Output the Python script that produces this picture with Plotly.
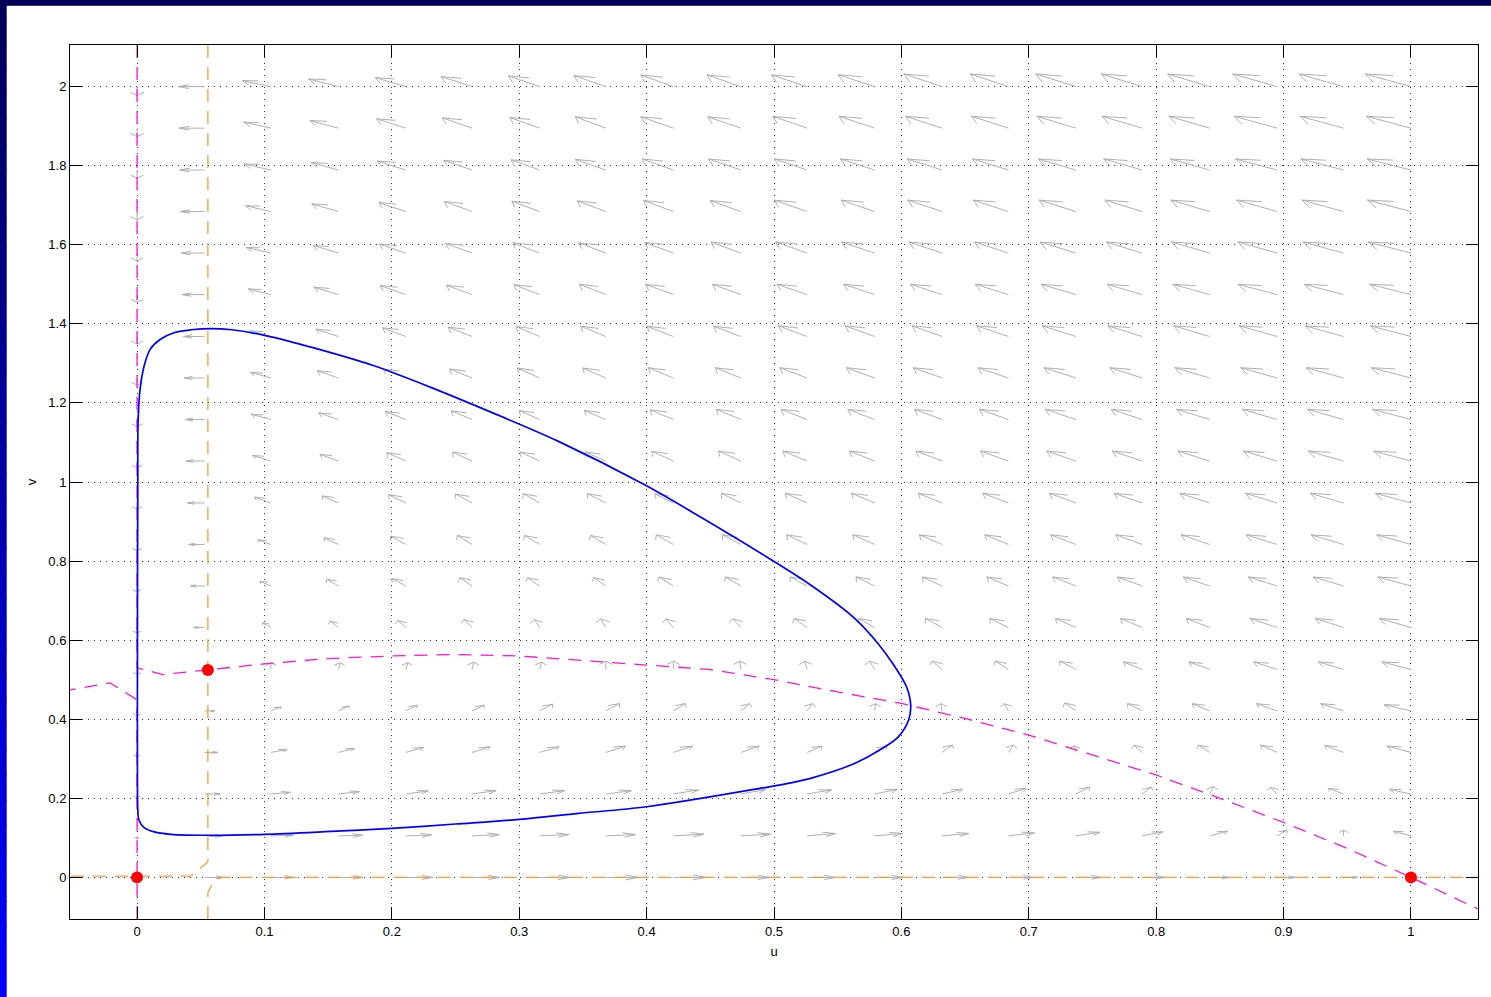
import plotly.graph_objects as go

# ---------------- data ----------------
# arrow grid (tails of the vector-field arrows)
U_GRID = [0.000, 0.053, 0.105, 0.158, 0.211, 0.263, 0.316, 0.368, 0.421, 0.474,
          0.526, 0.579, 0.632, 0.684, 0.737, 0.789, 0.842, 0.895, 0.947, 1.000]
V_GRID = [0.000, 0.105, 0.211, 0.316, 0.421, 0.526, 0.632, 0.737, 0.842, 0.947,
          1.053, 1.158, 1.263, 1.368, 1.474, 1.579, 1.684, 1.789, 1.895, 2.000]

# arrow components (data units), one row per V_GRID value (v = 0 first)
DU = [
    [0, 0.015, 0.018, 0.019, 0.021, 0.0214, 0.024, 0.0256, 0.0256, 0.0224, 0.0224, 0.022, 0.021, 0.0195, 0.020, 0.018, 0.0156, 0.0146, 0.0114, 0],
    [0, 0.014, 0.0176, 0.0192, 0.0202, 0.0214, 0.023, 0.0234, 0.024, 0.0234, 0.0224, 0.0218, 0.0211, 0.0205, 0.0189, 0.0163, 0.014, 0.0075, 0.0, -0.014],
    [0, 0.0122, 0.0154, 0.0166, 0.0176, 0.0189, 0.0198, 0.0202, 0.0198, 0.0192, 0.0192, 0.0179, 0.0163, 0.014, 0.0107, 0.0072, 0.0033, -0.0055, -0.012, -0.0172],
    [0, 0.0106, 0.0128, 0.0128, 0.0138, 0.0141, 0.0154, 0.0154, 0.015, 0.0144, 0.0117, 0.009, 0.008, 0.004, -0.0013, -0.0065, -0.0088, -0.013, -0.0146, -0.0189],
    [0, 0.008, 0.008, 0.0086, 0.009, 0.0096, 0.0102, 0.0106, 0.0095, 0.007, 0.004, 0.0007, -0.001, -0.0033, -0.0088, -0.0114, -0.0137, -0.0163, -0.0179, -0.0211],
    [0, 0, 0, 0.0016, 0.0016, 0.0013, 0.0016, 0, 0, -0.001, -0.002, -0.004, -0.008, -0.0104, -0.0127, -0.0146, -0.0163, -0.0185, -0.0195, -0.0228],
    [0, -0.0086, -0.0064, -0.0064, -0.0064, -0.0064, -0.004, -0.0042, -0.0058, -0.0064, -0.010, -0.0124, -0.013, -0.0146, -0.016, -0.017, -0.0185, -0.0211, -0.022, -0.0247],
    [0, -0.0109, -0.0086, -0.009, -0.0106, -0.0096, -0.0096, -0.0096, -0.0112, -0.0122, -0.0133, -0.0146, -0.0156, -0.0169, -0.0182, -0.0195, -0.0208, -0.0228, -0.0237, -0.026],
    [0, -0.0125, -0.0102, -0.0112, -0.0118, -0.0115, -0.0118, -0.0122, -0.0134, -0.0144, -0.016, -0.0172, -0.0179, -0.0185, -0.0198, -0.0208, -0.0224, -0.0244, -0.0254, -0.027],
    [0, -0.0134, -0.0128, -0.0128, -0.0134, -0.0131, -0.0128, -0.0144, -0.0144, -0.0154, -0.0172, -0.0182, -0.0189, -0.0202, -0.0208, -0.0221, -0.0234, -0.025, -0.026, -0.028],
    [0, -0.0144, -0.0144, -0.0144, -0.015, -0.0154, -0.015, -0.016, -0.017, -0.0176, -0.019, -0.0198, -0.0205, -0.0218, -0.023, -0.0234, -0.025, -0.0267, -0.0276, -0.0293],
    [0, -0.015, -0.0154, -0.0154, -0.016, -0.0163, -0.016, -0.0169, -0.0182, -0.0192, -0.0205, -0.0211, -0.0218, -0.0228, -0.0241, -0.0244, -0.026, -0.0276, -0.0283, -0.0302],
    [0, -0.016, -0.016, -0.0166, -0.0176, -0.0176, -0.0176, -0.0182, -0.0198, -0.0202, -0.0215, -0.0221, -0.0228, -0.024, -0.025, -0.0254, -0.0273, -0.0286, -0.0293, -0.0312],
    [0, -0.0166, -0.016, -0.0176, -0.0182, -0.0186, -0.0186, -0.0198, -0.0208, -0.0214, -0.0224, -0.0231, -0.0237, -0.025, -0.0263, -0.0267, -0.0283, -0.0299, -0.030, -0.0319],
    [0, -0.0176, -0.0176, -0.0192, -0.0202, -0.0202, -0.0202, -0.0208, -0.0218, -0.0224, -0.0237, -0.0244, -0.025, -0.026, -0.0273, -0.0276, -0.0289, -0.0309, -0.0309, -0.0325],
    [0, -0.0182, -0.0192, -0.0198, -0.0208, -0.0208, -0.021, -0.0214, -0.0224, -0.0234, -0.0247, -0.026, -0.026, -0.0266, -0.028, -0.028, -0.030, -0.0309, -0.0315, -0.0335],
    [0, -0.019, -0.020, -0.0208, -0.0214, -0.0218, -0.0218, -0.0224, -0.0234, -0.024, -0.0257, -0.0263, -0.027, -0.0276, -0.029, -0.0293, -0.0305, -0.0319, -0.0325, -0.0342],
    [0, -0.0195, -0.0208, -0.0214, -0.0224, -0.0224, -0.0224, -0.024, -0.0246, -0.0253, -0.0257, -0.027, -0.0276, -0.0283, -0.0296, -0.0302, -0.0309, -0.0328, -0.0335, -0.0345],
    [0, -0.020, -0.0214, -0.0224, -0.023, -0.0234, -0.0234, -0.024, -0.0256, -0.026, -0.027, -0.028, -0.029, -0.029, -0.0306, -0.0315, -0.032, -0.034, -0.034, -0.035],
    [0, -0.0205, -0.0224, -0.0234, -0.024, -0.0243, -0.0243, -0.025, -0.0256, -0.0266, -0.028, -0.0286, -0.030, -0.030, -0.0315, -0.032, -0.033, -0.035, -0.035, -0.036],
]
DV = [
    [0] * 20,
    [-0.008, 0, 0.0017, 0.0017, 0.0025, 0.0034, 0.0034, 0.0034, 0.0042, 0.0042, 0.006, 0.006, 0.006, 0.0076, 0.0093, 0.0101, 0.0118, 0.0143, 0.0143, 0.0118],
    [-0.010, 0, 0.0042, 0.006, 0.0076, 0.0084, 0.0084, 0.0084, 0.0101, 0.0108, 0.0101, 0.0118, 0.0118, 0.0143, 0.0169, 0.0169, 0.0185, 0.0169, 0.0143, 0.0118],
    [-0.011, 0, 0.0076, 0.0101, 0.0126, 0.0143, 0.0143, 0.016, 0.016, 0.016, 0.016, 0.016, 0.0185, 0.0185, 0.017, 0.0185, 0.0185, 0.0185, 0.0177, 0.016],
    [-0.012, 0, 0.0101, 0.0126, 0.0143, 0.0143, 0.0169, 0.0185, 0.0185, 0.0185, 0.0185, 0.0185, 0.0185, 0.0185, 0.020, 0.0185, 0.0185, 0.0185, 0.0185, 0.016],
    [-0.013, 0, 0.017, 0.017, 0.017, 0.0185, 0.0185, 0.021, 0.021, 0.021, 0.021, 0.021, 0.021, 0.021, 0.021, 0.019, 0.019, 0.019, 0.019, 0.019],
    [-0.014, 0, 0.0118, 0.016, 0.0177, 0.0202, 0.0202, 0.022, 0.022, 0.022, 0.0227, 0.0227, 0.0227, 0.0227, 0.0227, 0.0227, 0.0227, 0.0227, 0.0227, 0.0227],
    [-0.015, 0, 0.0118, 0.0169, 0.0185, 0.021, 0.021, 0.021, 0.0227, 0.0227, 0.0227, 0.0227, 0.0227, 0.0227, 0.0227, 0.0227, 0.0227, 0.0227, 0.0227, 0.0227],
    [-0.016, 0, 0.0118, 0.0169, 0.021, 0.0227, 0.0227, 0.0227, 0.0244, 0.0244, 0.0244, 0.0244, 0.0244, 0.0244, 0.0244, 0.0244, 0.0244, 0.0244, 0.0244, 0.0244],
    [-0.016, 0, 0.0148, 0.018, 0.0207, 0.0224, 0.0232, 0.0232, 0.0232, 0.0244, 0.0244, 0.0244, 0.0244, 0.0244, 0.0244, 0.0244, 0.0244, 0.0244, 0.0244, 0.0244],
    [-0.017, 0, 0.0143, 0.0169, 0.0211, 0.0228, 0.0228, 0.0228, 0.0245, 0.0253, 0.0253, 0.0253, 0.0253, 0.0253, 0.0253, 0.0253, 0.0253, 0.0253, 0.0253, 0.0253],
    [-0.018, 0, 0.0135, 0.0169, 0.0203, 0.022, 0.0228, 0.0228, 0.0245, 0.026, 0.026, 0.026, 0.026, 0.026, 0.026, 0.026, 0.026, 0.026, 0.026, 0.026],
    [-0.018, 0, 0.0143, 0.0186, 0.0228, 0.0228, 0.0253, 0.0253, 0.026, 0.026, 0.026, 0.026, 0.026, 0.026, 0.026, 0.026, 0.026, 0.026, 0.026, 0.026],
    [-0.019, 0, 0.0143, 0.0186, 0.022, 0.0236, 0.0253, 0.026, 0.026, 0.026, 0.027, 0.027, 0.027, 0.027, 0.027, 0.027, 0.027, 0.027, 0.027, 0.027],
    [-0.020, 0, 0.0143, 0.0186, 0.0228, 0.0236, 0.0253, 0.026, 0.026, 0.026, 0.026, 0.026, 0.026, 0.026, 0.026, 0.026, 0.026, 0.026, 0.026, 0.026],
    [-0.020, 0, 0.0143, 0.0194, 0.0228, 0.0245, 0.026, 0.026, 0.027, 0.028, 0.028, 0.028, 0.028, 0.028, 0.028, 0.028, 0.028, 0.028, 0.028, 0.028],
    [-0.021, 0, 0.015, 0.0194, 0.0228, 0.0253, 0.026, 0.027, 0.028, 0.028, 0.029, 0.029, 0.029, 0.029, 0.029, 0.029, 0.029, 0.029, 0.029, 0.029],
    [-0.021, 0, 0.0152, 0.0194, 0.0228, 0.0245, 0.026, 0.027, 0.028, 0.028, 0.028, 0.028, 0.028, 0.028, 0.028, 0.028, 0.028, 0.028, 0.028, 0.028],
    [-0.022, 0, 0.0152, 0.0194, 0.0236, 0.026, 0.027, 0.0287, 0.0287, 0.0287, 0.030, 0.030, 0.030, 0.030, 0.030, 0.030, 0.030, 0.030, 0.030, 0.030],
    [-0.023, 0, 0.0152, 0.0194, 0.0228, 0.0253, 0.027, 0.028, 0.0295, 0.0295, 0.0295, 0.030, 0.032, 0.032, 0.032, 0.032, 0.032, 0.032, 0.032, 0.032],
]

# closed orbit (blue)
CYCLE_U = [0.0584, 0.0744, 0.100, 0.138, 0.186, 0.234, 0.282, 0.330, 0.3992, 0.442, 0.495,
           0.529, 0.562, 0.5813, 0.594, 0.604, 0.6073, 0.6057, 0.5976, 0.583, 0.5618, 0.5293, 0.513,
           0.495, 0.400, 0.3464, 0.300, 0.250, 0.200, 0.148, 0.100, 0.0552, 0.0264, 0.0136, 0.0056,
           0.0014, 0.0006, 0.0003, 0.0003, 0.0004, 0.0006, 0.0008, 0.0024, 0.0056, 0.0104, 0.0184,
           0.0296, 0.0424, 0.0584]
CYCLE_V = [1.388, 1.385, 1.371, 1.340, 1.294, 1.235, 1.171, 1.104, 0.9916, 0.912, 0.809,
           0.739, 0.659, 0.593, 0.537, 0.482, 0.4356, 0.398, 0.3555, 0.322, 0.286, 0.251, 0.2390,
           0.2285, 0.1786, 0.1618, 0.1466, 0.135, 0.1238, 0.1155, 0.109, 0.1065, 0.109, 0.115, 0.126,
           0.145, 0.170, 0.250, 0.500, 0.800, 1.000, 1.150, 1.235, 1.294, 1.336, 1.361,
           1.378, 1.385, 1.388]

# u-nullcline (magenta): u = 0 joined to the hump, and the short left piece
UNULL_A_U = [0.0, 0.0, 0.0204, 0.0556, 0.075, 0.100, 0.150, 0.200, 0.250, 0.300, 0.400, 0.449,
             0.500, 0.550, 0.600, 0.650, 0.700, 0.750, 0.800, 0.850, 0.900, 0.950, 1.000, 1.0526]
UNULL_A_V = [2.1053, 0.530, 0.513, 0.5247, 0.532, 0.540, 0.5535, 0.560, 0.5636, 0.560, 0.537, 0.526,
             0.500, 0.469, 0.440, 0.402, 0.360, 0.309, 0.259, 0.200, 0.139, 0.0733, 0.0, -0.080]
UNULL_B_U = [0.0, 0.0, -0.0212, -0.0526]
UNULL_B_V = [-0.1053, 0.449, 0.492, 0.474]

# v-nullcline (orange): u = u* joined to v = 0
VNULL_A_U = [0.0556, 0.0556, 0.0424, -0.0526]
VNULL_A_V = [2.1053, 0.0396, 0.003, 0.003]
VNULL_B_U = [0.0556, 0.0556, 0.0594, 0.066, 1.0526]
VNULL_B_V = [-0.1053, -0.039, -0.0135, 0.0, 0.0]

# equilibrium points
EQ_U = [0.0, 0.0556, 1.0]
EQ_V = [0.0, 0.5247, 0.0]

X_TICKS = [0, 0.1, 0.2, 0.3, 0.4, 0.5, 0.6, 0.7, 0.8, 0.9, 1]
X_LABELS = ["0", "0.1", "0.2", "0.3", "0.4", "0.5", "0.6", "0.7", "0.8", "0.9", "1"]
Y_TICKS = [0, 0.2, 0.4, 0.6, 0.8, 1.0, 1.2, 1.4, 1.6, 1.8, 2.0]
Y_LABELS = ["0", "0.2", "0.4", "0.6", "0.8", "1", "1.2", "1.4", "1.6", "1.8", "2"]

X_RANGE = [-0.05263, 1.05263]
Y_RANGE = [-0.10526, 2.10526]

# ---------------- styles ----------------
HEAD_ALPHA = 0.40
HEAD_BETA = 0.60
ARROW_COLOR = "#b0b0b0"
MAGENTA = "#ff14d8"
ORANGE = "#ff9a3c"
FONT = "Liberation Sans, Arial, sans-serif"

# ---------------- build arrows ----------------
ax, ay = [], []
for j, v in enumerate(V_GRID):
    for i, u in enumerate(U_GRID):
        du, dv = DU[j][i], DV[j][i]
        if du == 0 and dv == 0:
            continue
        hx, hy = u + du, v + dv
        b1x = hx - HEAD_ALPHA * (du + HEAD_BETA * dv)
        b1y = hy - HEAD_ALPHA * (dv - HEAD_BETA * du)
        b2x = hx - HEAD_ALPHA * (du - HEAD_BETA * dv)
        b2y = hy - HEAD_ALPHA * (dv + HEAD_BETA * du)
        ax += [u, hx, b1x, None, hx, b2x, None]
        ay += [v, hy, b1y, None, hy, b2y, None]

fig = go.Figure()
fig.add_trace(go.Scatter(x=ax, y=ay, mode="lines",
                         line=dict(color=ARROW_COLOR, width=1), hoverinfo="skip"))

dash_style = "13px,9px"
for xs, ys, col in [(UNULL_A_U, UNULL_A_V, MAGENTA), (UNULL_B_U, UNULL_B_V, MAGENTA),
                    (VNULL_A_U, VNULL_A_V, ORANGE), (VNULL_B_U, VNULL_B_V, ORANGE)]:
    fig.add_trace(go.Scatter(x=xs, y=ys, mode="lines",
                             line=dict(color=col, width=1.3, dash=dash_style)))

fig.add_trace(go.Scatter(x=CYCLE_U, y=CYCLE_V, mode="lines",
                         line=dict(color="#0000ff", width=1.7, shape="spline", smoothing=0.9)))

fig.add_trace(go.Scatter(x=EQ_U, y=EQ_V, mode="markers",
                         marker=dict(color="#ff0000", size=12, line=dict(width=0))))

axis_common = dict(
    showgrid=True, gridcolor="#333333", griddash="1px,5px", gridwidth=1,
    zeroline=False, showline=True, linecolor="black", linewidth=1, mirror="ticks",
    ticks="inside", ticklen=12, tickcolor="black", tickwidth=1,
    tickfont=dict(family=FONT, size=13, color="black"),
    tickmode="array", automargin=False,
)

fig.update_layout(
    width=1491, height=997,
    margin=dict(l=70, r=13, t=45, b=78),
    paper_bgcolor="white", plot_bgcolor="white",
    showlegend=False,
    font=dict(family=FONT, size=13, color="black"),
    xaxis=dict(range=X_RANGE, tickvals=X_TICKS, ticktext=X_LABELS,
               title=dict(text="u", font=dict(family=FONT, size=13), standoff=9),
               **axis_common),
    yaxis=dict(range=Y_RANGE, tickvals=Y_TICKS, ticktext=Y_LABELS,
               title=dict(text="v", font=dict(family=FONT, size=13), standoff=8),
               **axis_common),
)

# window frame: dark top strip and blue gradient strip on the left
shapes = [dict(type="rect", xref="paper", yref="paper", x0=-0.06, x1=1.1,
               y0=1.0449, y1=1.06, fillcolor="#000058", line=dict(width=0), layer="above")]
n = 40
top, bottom = 1.06, -0.095
for k in range(n):
    t = k / (n - 1)
    r, g, b = 0, 0, int(0x58 + (0xff - 0x58) * t)
    y1 = top - (top - bottom) * k / n
    y0 = top - (top - bottom) * (k + 1) / n
    shapes.append(dict(type="rect", xref="paper", yref="paper", x0=-0.06, x1=-0.04496,
                       y0=y0 - 0.001, y1=y1, fillcolor=f"rgb({r},{g},{b})",
                       line=dict(width=0), layer="above"))
fig.update_layout(shapes=shapes)

fig.write_html("out.html", config={"displayModeBar": False},
               post_script="document.body.style.margin='0';document.body.style.overflow='hidden';")
